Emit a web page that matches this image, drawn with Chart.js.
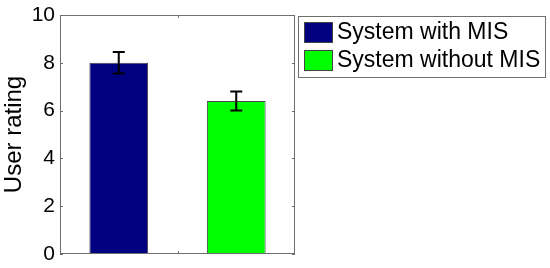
<!DOCTYPE html>
<html>
<head>
  <meta charset="UTF-8">
  <title>User rating</title>
  <style>
    body { margin: 0; background: #fff; }
    #wrap { width: 550px; height: 268px; }
  </style>
</head>
<body>
  <div id="wrap"><canvas id="c" width="550" height="268"></canvas></div>
  <script src="https://cdn.jsdelivr.net/npm/chart.js@4"></script>
  <script>
    // datos
    const categories = ['System with MIS', 'System without MIS'];
    const ratings = [8.0, 6.4];
    const errLow = [7.55, 6.0];
    const errHigh = [8.45, 6.8];
    const barColors = ['#000080', '#00ff00'];
    const yTicks = [0, 2, 4, 6, 8, 10];

    const FONT = '"Liberation Sans", Arial, sans-serif';

    // barras de error + marcas hacia dentro + leyenda
    const extras = {
      id: 'extras',
      afterDatasetsDraw(chart) {
        const ctx = chart.ctx;
        const x = chart.scales.x, y = chart.scales.y;
        const a = chart.chartArea;
        ctx.save();
        // error bars
        ctx.strokeStyle = '#000';
        ctx.lineWidth = 2;
        categories.forEach((c, i) => {
          const px = x.getPixelForValue(i);
          const yl = y.getPixelForValue(errLow[i]);
          const yh = y.getPixelForValue(errHigh[i]);
          ctx.beginPath();
          ctx.moveTo(px, yl); ctx.lineTo(px, yh);
          ctx.moveTo(px - 6, yl); ctx.lineTo(px + 6, yl);
          ctx.moveTo(px - 6, yh); ctx.lineTo(px + 6, yh);
          ctx.stroke();
        });
        // frame
        ctx.strokeStyle = '#6e6e6e';
        ctx.lineWidth = 1;
        ctx.strokeRect(a.left + 0.5, a.top + 0.5, a.right - a.left - 1, a.bottom - a.top - 1);
        // inward ticks
        ctx.beginPath();
        yTicks.forEach(v => {
          const py = Math.round(y.getPixelForValue(v)) + 0.5;
          ctx.moveTo(a.left, py); ctx.lineTo(a.left + 3, py);
          ctx.moveTo(a.right, py); ctx.lineTo(a.right - 3, py);
        });
        const mid = Math.round((x.getPixelForValue(0) + x.getPixelForValue(1)) / 2) + 0.5;
        ctx.moveTo(mid, a.bottom); ctx.lineTo(mid, a.bottom - 3);
        ctx.moveTo(mid, a.top); ctx.lineTo(mid, a.top + 3);
        ctx.stroke();
        // legend
        const lx = 298, ly = 16, lw = 247, lh = 61;
        ctx.fillStyle = '#fff';
        ctx.fillRect(lx, ly, lw, lh);
        ctx.strokeStyle = '#6e6e6e';
        ctx.strokeRect(lx + 0.5, ly + 0.5, lw, lh);
        ctx.font = '23px ' + FONT;
        ctx.textBaseline = 'middle';
        categories.forEach((c, i) => {
          const ry = 22 + i * 28;
          ctx.fillStyle = barColors[i];
          ctx.fillRect(304, ry, 29, 21);
          ctx.strokeStyle = '#444';
          ctx.strokeRect(304.5, ry + 0.5, 28, 20);
          ctx.fillStyle = '#000';
          ctx.fillText(c, 337, ry + 11);
        });
        ctx.restore();
      }
    };

    new Chart(document.getElementById('c'), {
      type: 'bar',
      data: {
        labels: categories,
        datasets: [{
          data: ratings,
          backgroundColor: barColors,
          borderColor: '#444',
          borderWidth: 1,
          categoryPercentage: 1,
          barPercentage: 0.5
        }]
      },
      options: {
        responsive: false,
        animation: false,
        layout: { padding: { left: 0, top: 15, right: 255, bottom: 14 } },
        plugins: { legend: { display: false }, tooltip: { enabled: false } },
        scales: {
          x: {
            grid: { display: false },
            border: { display: false },
            ticks: { display: false },
            afterFit: s => { s.height = 0; s.paddingLeft = 0; s.paddingRight = 0; }
          },
          y: {
            min: 0, max: 10,
            afterBuildTicks: s => { s.ticks = yTicks.map(v => ({ value: v })); },
            grid: { display: false, drawTicks: false },
            border: { display: false },
            ticks: { padding: 5, color: '#000', font: { family: FONT, size: 21 } },
            title: { display: true, text: 'User rating', color: '#000', padding: 0, font: { family: FONT, size: 24 } },
            afterFit: s => { s.width = 60; s.paddingTop = 0; s.paddingBottom = 0; }
          }
        }
      },
      plugins: [extras]
    });
  </script>
</body>
</html>
